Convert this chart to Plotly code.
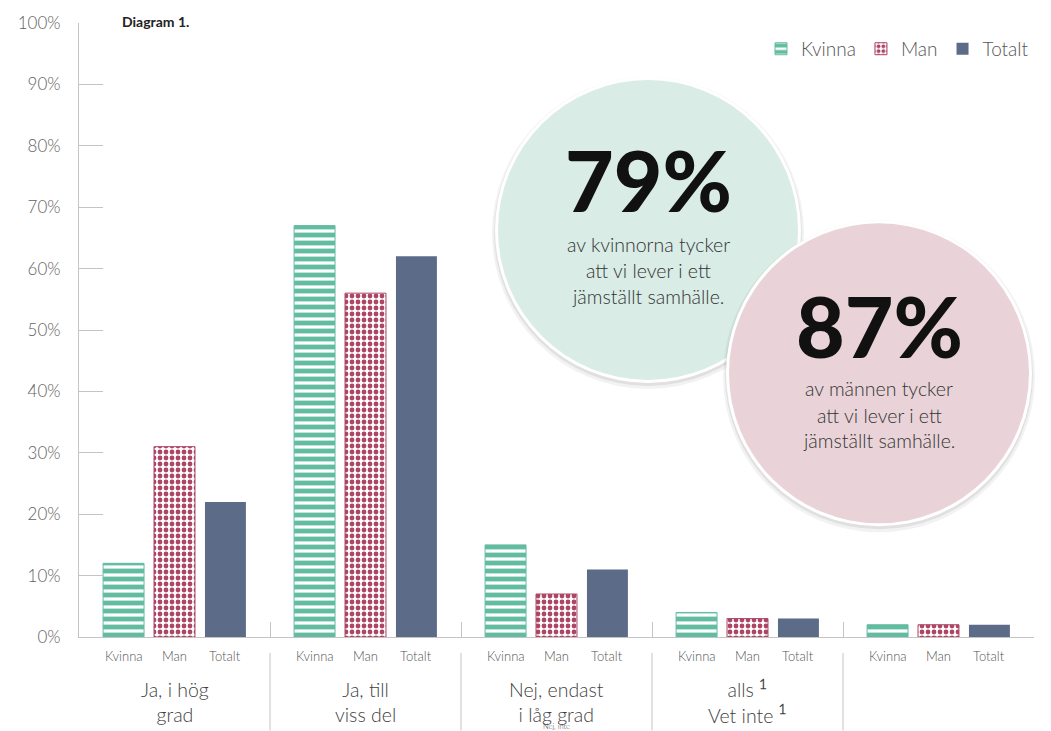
import plotly.graph_objects as go

# ---- data ----
groups = ["Ja, i hög<br>grad", "Ja, till<br>viss del", "Nej, endast<br>i låg grad",
          "alls <b><sup>1</sup></b><br>Vet inte <b><sup>1</sup></b>", ""]
series_names = ["Kvinna", "Man", "Totalt"]
kvinna = [12, 67, 15, 4, 2]
man = [31, 56, 7, 3, 2]
totalt = [22, 62, 11, 3, 2]
y_ticks = [0, 10, 20, 30, 40, 50, 60, 70, 80, 90, 100]
y_ticktext = [f"{v}%" for v in y_ticks]
circle_big = ["79%", "87%"]
circle_lines = [["av kvinnorna tycker", "att vi lever i ett", "jämställt samhälle."],
                ["av männen tycker", "att vi lever i ett", "jämställt samhälle."]]

# ---- layout constants ----
W, H = 1051, 731
ML, MR, MT, MB = 79, 17, 20, 94
PW, PH = W - ML - MR, H - MT - MB
BARGAP = 0.2
FONT = "Lato Light, Lato, sans-serif"
BOLDFONT = "Lato Black, Lato, sans-serif"
GREY = "#626262"
AXIS = "#c4c4c4"

TEAL = "#62bca0"
PINK = "#ad4565"
NAVY = "#5b6b88"

def px_to_paper_x(px):
    return (px - ML) / PW

def px_to_paper_y(py):
    return (H - MB - py) / PH

xs = list(range(len(groups)))

fig = go.Figure()
fig.add_trace(go.Bar(
    name=series_names[0], x=xs, y=kvinna,
    marker=dict(color="white", line=dict(color=TEAL, width=1),
                pattern=dict(shape="-", fgcolor=TEAL, bgcolor="white", fgopacity=1,
                             size=8, solidity=0.6)),
))
fig.add_trace(go.Bar(
    name=series_names[1], x=xs, y=man,
    marker=dict(color="white", line=dict(color=PINK, width=1),
                pattern=dict(shape=".", fgcolor=PINK, bgcolor="white", fgopacity=1,
                             size=6, solidity=0.5)),
))
fig.add_trace(go.Bar(
    name=series_names[2], x=xs, y=totalt,
    marker=dict(color=NAVY, line=dict(width=0)),
))

annotations = []
slot = (1 - BARGAP) / 3
for gi, g in enumerate(groups):
    for j, s in enumerate(series_names):
        annotations.append(dict(x=gi + (j - 1) * slot, y=px_to_paper_y(656), xref="x", yref="paper",
                                text=s, showarrow=False, xanchor="center", yanchor="middle",
                                font=dict(family=FONT, size=13, color="#555")))
    if g:
        annotations.append(dict(x=gi, y=px_to_paper_y(702), xref="x", yref="paper",
                                text=g, showarrow=False, xanchor="center", yanchor="middle",
                                font=dict(family=FONT, size=19.5, color="#3f3f3f")))
# small cut-off note under group 3
annotations.append(dict(x=2, y=px_to_paper_y(727), xref="x", yref="paper", text="Nej, inte",
                        showarrow=False, xanchor="center", yanchor="middle",
                        font=dict(family=FONT, size=7.5, color="#444")))
annotations.append(dict(x=px_to_paper_x(120), y=px_to_paper_y(18), xref="paper", yref="paper",
                        text="<b>Diagram 1.</b>", showarrow=False, xanchor="left", yanchor="middle",
                        font=dict(family="Lato, sans-serif", size=14, color="#222")))

shapes = []
# group separators below axis
for b in [0.5, 1.5, 2.5, 3.5]:
    shapes.append(dict(type="line", xref="x", yref="paper", x0=b, x1=b,
                       y0=px_to_paper_y(653), y1=px_to_paper_y(731),
                       line=dict(color=AXIS, width=1)))

# circles
circles = [
    dict(cx=648, cy=228, r=150, fill="#d9ece6", big_y=177, line_y=[243, 269, 295]),
    dict(cx=879, cy=372, r=150, fill="#e9d3d8", big_y=324, line_y=[387, 414, 440]),
]
for i, c in enumerate(circles):
    ax = px_to_paper_x(c["cx"])
    for dr, col, op, dy in [(6, "#000", 0.05, 3), (4, "#000", 0.07, 2), (3, "white", 1.0, 0), (0, c["fill"], 1.0, 0)]:
        r = c["r"] + dr
        shapes.append(dict(type="circle", xref="paper", yref="paper",
                           xsizemode="pixel", ysizemode="pixel",
                           xanchor=ax, yanchor=px_to_paper_y(c["cy"] + dy),
                           x0=-r, x1=r, y0=-r, y1=r,
                           fillcolor=col, opacity=op, line=dict(width=0), layer="above"))
    annotations.append(dict(x=ax, y=px_to_paper_y(c["big_y"]), xref="paper", yref="paper",
                            text="<b>" + circle_big[i] + "</b>", showarrow=False,
                            xanchor="center", yanchor="middle", borderpad=0,
                            font=dict(family=BOLDFONT, size=84, color="#111")))
    for line, ly in zip(circle_lines[i], c["line_y"]):
        annotations.append(dict(x=ax, y=px_to_paper_y(ly), xref="paper", yref="paper",
                                text=line, showarrow=False, align="center", borderpad=0,
                                xanchor="center", yanchor="middle",
                                font=dict(family=FONT, size=19.5, color="#333")))

fig.update_layout(
    width=W, height=H,
    margin=dict(l=ML, r=MR, t=MT, b=MB, pad=0),
    paper_bgcolor="white", plot_bgcolor="white",
    barmode="group", bargap=BARGAP, bargroupgap=0.196,
    font=dict(family=FONT, color=GREY),
    xaxis=dict(range=[-0.5, len(groups) - 0.5], tickvals=[0.5, 1.5, 2.5, 3.5, 4.5],
               showticklabels=False, ticks="inside", ticklen=15, tickcolor=AXIS,
               showline=True, linecolor=AXIS, linewidth=1, showgrid=False, zeroline=False,
               fixedrange=True),
    yaxis=dict(range=[0, 100], tickmode="array", tickvals=y_ticks, ticktext=y_ticktext,
               ticks="inside", ticklen=24,
               tickcolor=AXIS, showline=True, linecolor=AXIS, linewidth=1, showgrid=False,
               zeroline=False, ticklabelstandoff=14,
               tickfont=dict(family=FONT, size=17, color=GREY)),
    legend=dict(orientation="h", x=1.0, xanchor="right", y=px_to_paper_y(46), yanchor="middle",
                font=dict(family=FONT, size=19, color="#555"), bgcolor="rgba(0,0,0,0)",
                traceorder="normal"),
    shapes=shapes, annotations=annotations,
)

fig.write_html("out.html", config={"displayModeBar": False},
               post_script="document.body.style.margin='0';")
